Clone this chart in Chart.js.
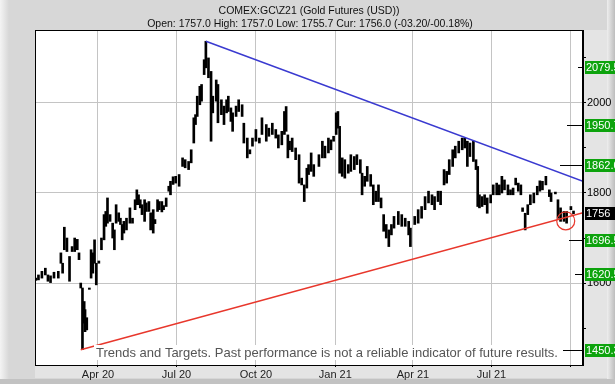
<!DOCTYPE html>
<html>
<head>
<meta charset="utf-8">
<script src="https://cdn.jsdelivr.net/npm/chart.js@4.4.0/dist/chart.umd.min.js"></script>
<style>
  html, body { margin: 0; padding: 0; background: #d6d6d6; }
  #wrap { width: 615px; height: 384px; }
</style>
</head>
<body>
<div id="wrap"><canvas id="myChart" width="615" height="384"></canvas></div>
<script>
// Daily bars. x = days counted from 1 Apr 2020
const barDays = [-72, -69, -65, -61, -58, -55, -51, -46, -43, -41, -39, -36, -33, -30, -27, -24, -22, -20, -18, -16,
  -15, -13, -10, -8, -6, -4, -2, 1, 4, 7, 9, 11, 14, 17, 19, 21, 24, 26, 28, 30,
  33, 37, 40, 43, 45, 47, 49, 51, 54, 56, 59, 61, 64, 66, 69, 71, 74, 76, 79, 82,
  84, 87, 90, 94, 98, 101, 105, 108, 111, 113, 115, 118, 120, 123, 125, 128, 131, 133, 137, 139,
  143, 146, 149, 151, 154, 156, 160, 163, 167, 169, 173, 176, 179, 183, 187, 190, 195, 198, 202, 206,
  209, 213, 216, 218, 220, 222, 225, 229, 233, 236, 239, 242, 244, 247, 250, 256, 260, 263, 267, 270,
  273, 276, 278, 280, 283, 286, 290, 293, 297, 300, 304, 306, 309, 312, 316, 319, 322, 325, 328, 331,
  334, 337, 340, 343, 348, 352, 356, 360, 362, 367, 371, 375, 379, 383, 387, 390, 394, 397, 401, 404,
  407, 411, 414, 418, 422, 425, 428, 431, 435, 438, 440, 442, 445, 448, 451, 455, 458, 462, 465, 468,
  471, 475, 478, 481, 484, 487, 490, 492, 495, 498, 501, 505, 509, 512, 515, 519, 523, 525, 530, 533,
  536, 540, 543, 548, 551];
const barHigh = [1611, 1618, 1626, 1633, 1618, 1616, 1624, 1626, 1667, 1644, 1724, 1700, 1659, 1681, 1700, 1697, 1667, 1600, 1589, 1559,
  1541, 1523, 1589, 1674, 1667, 1696, 1644, 1649, 1700, 1752, 1759, 1789, 1752, 1733, 1718, 1774, 1756, 1744, 1730, 1737,
  1744, 1767, 1744, 1785, 1807, 1796, 1785, 1774, 1785, 1778, 1781, 1756, 1763, 1741, 1785, 1781, 1781, 1772, 1789, 1815,
  1826, 1836, 1837, 1841, 1878, 1874, 1870, 1896, 1967, 1974, 2015, 2037, 2041, 2096, 2137, 2100, 2070, 2015, 2051, 2041,
  2007, 1993, 2007, 2015, 1989, 1978, 1993, 2007, 1996, 1955, 1922, 1896, 1922, 1941, 1922, 1967, 1952, 1944, 1955, 1941,
  1929, 1937, 1981, 1992, 1929, 1915, 1922, 1900, 1885, 1833, 1818, 1855, 1863, 1889, 1863, 1885, 1915, 1904, 1922, 1918,
  1926, 1978, 1981, 1948, 1878, 1874, 1863, 1885, 1881, 1885, 1874, 1844, 1837, 1859, 1841, 1818, 1804, 1818, 1789, 1752,
  1730, 1718, 1730, 1748, 1759, 1752, 1744, 1737, 1722, 1748, 1763, 1770, 1792, 1804, 1796, 1792, 1804, 1804, 1852, 1848,
  1874, 1896, 1904, 1915, 1922, 1922, 1915, 1911, 1915, 1874, 1859, 1796, 1792, 1796, 1789, 1796, 1818, 1822, 1818, 1837,
  1829, 1818, 1807, 1811, 1833, 1822, 1818, 1767, 1755, 1774, 1796, 1800, 1815, 1827, 1826, 1837, 1807, 1800, 1802, 1785,
  1767, 1759, 1759, 1770, 1760];
const barLow = [1606, 1607, 1611, 1618, 1604, 1601, 1611, 1611, 1644, 1622, 1674, 1670, 1604, 1670, 1670, 1674, 1652, 1589, 1452, 1511,
  1492, 1496, 1586, 1611, 1622, 1644, 1596, 1644, 1674, 1696, 1726, 1733, 1737, 1700, 1674, 1733, 1737, 1730, 1696, 1711,
  1718, 1733, 1733, 1763, 1774, 1774, 1767, 1752, 1737, 1759, 1759, 1718, 1711, 1732, 1759, 1763, 1758, 1763, 1770, 1804,
  1796, 1819, 1822, 1815, 1859, 1856, 1852, 1867, 1911, 1952, 1970, 1996, 2004, 2063, 2078, 2056, 1915, 1978, 2004, 1956,
  1974, 1952, 1978, 1981, 1959, 1937, 1970, 1981, 1970, 1911, 1878, 1887, 1904, 1915, 1911, 1930, 1915, 1926, 1930, 1922,
  1900, 1907, 1930, 1937, 1878, 1896, 1892, 1874, 1822, 1818, 1781, 1811, 1841, 1848, 1837, 1859, 1878, 1878, 1889, 1896,
  1915, 1930, 1944, 1844, 1837, 1833, 1844, 1848, 1852, 1863, 1844, 1796, 1815, 1826, 1815, 1774, 1781, 1781, 1767, 1715,
  1700, 1681, 1707, 1722, 1730, 1726, 1726, 1707, 1681, 1730, 1733, 1744, 1763, 1778, 1774, 1763, 1781, 1774, 1818, 1822,
  1841, 1859, 1878, 1889, 1896, 1900, 1859, 1881, 1870, 1852, 1770, 1767, 1770, 1774, 1755, 1778, 1796, 1796, 1796, 1800,
  1807, 1796, 1796, 1796, 1818, 1804, 1796, 1759, 1718, 1752, 1774, 1778, 1796, 1804, 1807, 1818, 1792, 1781, 1798, 1744,
  1737, 1737, 1733, 1763, 1754];

// axis ticks
const tickDays = [0, 91, 183, 275, 365, 456, 548];
const tickLabels = ['Apr 20', 'Jul 20', 'Oct 20', 'Jan 21', 'Apr 21', 'Jul 21', ''];
const yTickValues = [1500, 1600, 1700, 1800, 1900, 2000, 2100];
const yLabelValues = [1600, 1800, 2000];

// trend lines
const supportDays = [-20, 562];
const supportPrices = [1452, 1756];
const resistDays = [125, 562];
const resistPrices = [2137, 1826];

// target levels shown on the right
const targetLevels = [2079.5, 1950.7, 1862.0, 1696.5, 1620.5, 1450.3];
const lastPrice = 1756;
const markerDay = 542;
const markerPrice = 1738;

const titleText = 'COMEX:GC\\Z21 (Gold Futures (USD))';
const subTitleText = 'Open: 1757.0 High: 1757.0 Low: 1755.7 Cur: 1756.0 (-03.20/-00.18%)';
const footerText = 'Trends and Targets. Past performance is not a reliable indicator of future results.';

// background, frame and labels
const framePlugin = {
    id: 'frame',
    beforeDraw(chart) {
        const c = chart.ctx, a = chart.chartArea, W = chart.width, H = chart.height;
        c.save();
        c.fillStyle = '#d7d7d7';
        c.fillRect(0, 0, W, H);
        let g = c.createLinearGradient(0, 0, 9, 0);
        g.addColorStop(0, '#f4f4f4');
        g.addColorStop(1, '#d7d7d7');
        c.fillStyle = g;
        c.fillRect(0, 0, 9, H);
        c.fillStyle = '#e4e4e4';
        c.fillRect(a.right, a.top, 24, a.bottom - a.top);
        c.fillRect(a.left, a.bottom, a.right - a.left + 24, 13);
        g = c.createLinearGradient(W - 8, 0, W, 0);
        g.addColorStop(0, '#eeeeee');
        g.addColorStop(1, '#bdbdbd');
        c.fillStyle = g;
        c.fillRect(W - 8, 0, 8, H);
        c.fillStyle = '#c2c2c2';
        c.fillRect(0, H - 5, W, 5);
        c.fillStyle = '#ffffff';
        c.fillRect(a.left, a.top, a.right - a.left, a.bottom - a.top);
        c.restore();
    },
    afterDraw(chart) {
        const c = chart.ctx, a = chart.chartArea, y = chart.scales.y;
        c.save();
        // plot border
        c.strokeStyle = '#000';
        c.lineWidth = 1;
        c.strokeRect(a.left + 0.5, a.top + 0.5, a.right - a.left - 1, a.bottom - a.top);

        // footer with white box, sized to the width it has in the picture
        c.font = '12px "Liberation Sans", Arial, sans-serif';
        const size = 12 * 462 / c.measureText(footerText).width;
        c.font = size.toFixed(2) + 'px "Liberation Sans", Arial, sans-serif';
        c.textBaseline = 'middle';
        c.textAlign = 'left';
        const fw = c.measureText(footerText).width;
        c.fillStyle = '#fff';
        c.fillRect(94, 345, fw + 4, 15);
        c.fillStyle = '#555';
        c.fillText(footerText, 96, 353);

        // target boxes
        c.font = '11px "Liberation Sans", Arial, sans-serif';
        const lineLen = [5, 16, 23, 14, 8, 20];
        targetLevels.forEach((v, i) => {
            const py = Math.round(y.getPixelForValue(v));
            c.strokeStyle = '#000';
            c.beginPath();
            c.moveTo(a.right - lineLen[i], py + 0.5);
            c.lineTo(a.right + 1, py + 0.5);
            c.stroke();
            c.fillStyle = '#0da30d';
            c.fillRect(a.right + 2, py - 6, 40, 13);
            c.fillStyle = '#fff';
            c.fillText(v.toFixed(1), a.right + 3, py + 1);
        });
        const ly = Math.round(y.getPixelForValue(lastPrice));
        c.fillStyle = '#000';
        c.fillRect(a.right + 2, ly - 6, 40, 13);
        c.fillStyle = '#fff';
        c.fillText(String(lastPrice), a.right + 3, ly + 1);

        // titles
        c.fillStyle = '#111';
        c.textAlign = 'center';
        c.font = '10.5px "Liberation Sans", Arial, sans-serif';
        c.fillText(titleText, 309, 11);
        c.fillText(subTitleText, 310, 24);
        c.restore();
    }
};

const bars = barDays.map((d, i) => ({ x: d, y: [barLow[i], barHigh[i]] }));

const ctx = document.getElementById('myChart').getContext('2d');
const myChart = new Chart(ctx, {
    type: 'bar',
    data: {
        datasets: [{
            type: 'line',
            data: supportDays.map((d, i) => ({ x: d, y: supportPrices[i] })),
            borderColor: '#e8372c',
            borderWidth: 1.5,
            pointRadius: 0,
            order: 0
        }, {
            type: 'line',
            data: resistDays.map((d, i) => ({ x: d, y: resistPrices[i] })),
            borderColor: '#3a3ad0',
            borderWidth: 1.5,
            pointRadius: 0,
            order: 0
        }, {
            type: 'scatter',
            data: [{ x: markerDay, y: markerPrice }],
            pointRadius: 9,
            borderColor: '#e8372c',
            backgroundColor: 'rgba(0,0,0,0)',
            borderWidth: 1.2,
            order: 0
        }, {
            type: 'bar',
            data: bars,
            backgroundColor: '#000',
            barThickness: 2,
            grouped: false,
            order: 1
        }]
    },
    options: {
        responsive: false,
        animation: false,
        devicePixelRatio: 1,
        layout: { padding: { left: 35, top: 30, right: 0, bottom: 0 } },
        plugins: { legend: { display: false }, tooltip: { enabled: false } },
        scales: {
            x: {
                type: 'linear',
                min: -73,
                max: 562,
                offset: false,
                afterBuildTicks: s => { s.ticks = tickDays.map(v => ({ value: v })); },
                afterFit: s => { s.height = 19; },
                grid: { color: '#c4c4c4', offset: false, tickLength: 2, tickColor: '#000' },
                border: { color: '#000' },
                ticks: {
                    autoSkip: false, maxRotation: 0, padding: 1, color: '#222',
                    font: { family: '"Liberation Sans", Arial, sans-serif', size: 11 },
                    callback: (v, i) => tickLabels[i]
                }
            },
            y: {
                position: 'right',
                min: 1418,
                max: 2162,
                afterBuildTicks: s => { s.ticks = yTickValues.map(v => ({ value: v })); },
                afterFit: s => { s.width = 32; },
                grid: {
                    color: c => yLabelValues.includes(c.tick.value) ? '#c4c4c4' : 'rgba(0,0,0,0)',
                    tickColor: '#000', tickLength: 3
                },
                border: { color: '#000' },
                ticks: {
                    padding: 1, color: '#000',
                    font: { family: '"Liberation Sans", Arial, sans-serif', size: 11 },
                    callback: v => yLabelValues.includes(v) ? String(v) : ''
                }
            }
        }
    },
    plugins: [framePlugin]
});
</script>
</body>
</html>
